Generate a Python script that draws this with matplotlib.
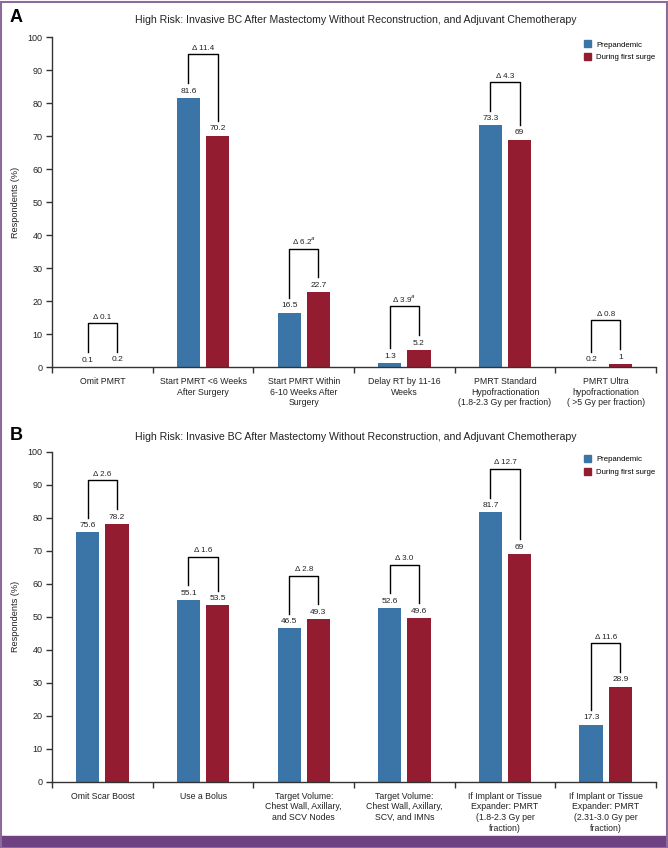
import numpy as np
import matplotlib
matplotlib.use("Agg")
import matplotlib.pyplot as plt
from matplotlib.patches import Rectangle, Patch

plt.rcParams["font.family"] = ["Liberation Sans", "DejaVu Sans"]

title = "High Risk: Invasive BC After Mastectomy Without Reconstruction, and Adjuvant Chemotherapy"
series = ["Prepandemic", "During first surge"]

cats_a = ["Omit PMRT", "Start PMRT <6 Weeks\nAfter Surgery",
          "Start PMRT Within\n6-10 Weeks After\nSurgery", "Delay RT by 11-16\nWeeks",
          "PMRT Standard\nHypofractionation\n(1.8-2.3 Gy per fraction)",
          "PMRT Ultra\nhypofractionation\n( >5 Gy per fraction)"]
pre_a = [0.1, 81.6, 16.5, 1.3, 73.3, 0.2]
surge_a = [0.2, 70.2, 22.7, 5.2, 69, 1]
delta_a = ["0.1", "11.4", "6.2$^{a}$", "3.9$^{a}$", "4.3", "0.8"]

cats_b = ["Omit Scar Boost", "Use a Bolus",
          "Target Volume:\nChest Wall, Axillary,\nand SCV Nodes",
          "Target Volume:\nChest Wall, Axillary,\nSCV, and IMNs",
          "If Implant or Tissue\nExpander: PMRT\n(1.8-2.3 Gy per\nfraction)",
          "If Implant or Tissue\nExpander: PMRT\n(2.31-3.0 Gy per\nfraction)"]
pre_b = [75.6, 55.1, 46.5, 52.6, 81.7, 17.3]
surge_b = [78.2, 53.5, 49.3, 49.6, 69, 28.9]
delta_b = ["2.6", "1.6", "2.8", "3.0", "12.7", "11.6"]

BLUE = "#3b75a7"
RED = "#941c31"
PURPLE = "#6e4280"

fig = plt.figure(figsize=(6.68, 8.48), dpi=100)


def fmt(v):
    return ("%g" % v)


def panel(ax, cats, pre, surge, deltas):
    x = np.arange(len(cats))
    w, off = 0.23, 0.145
    ax.bar(x - off, pre, w, color=BLUE, zorder=2)
    ax.bar(x + off, surge, w, color=RED, zorder=2)
    for i in range(len(cats)):
        for xx, v in ((x[i] - off, pre[i]), (x[i] + off, surge[i])):
            ax.text(xx, v + 1.0, fmt(v), ha="center", va="bottom", fontsize=6, color="#222")
        top = max(pre[i], surge[i]) + 13.2
        ax.plot([x[i] - off, x[i] - off, x[i] + off, x[i] + off],
                [pre[i] + 4.5, top, top, surge[i] + 4.5], color="black", lw=1.0, zorder=3)
        ax.text(x[i], top + 0.7, "\u0394 " + deltas[i], ha="center", va="bottom",
                fontsize=5.8, color="#222")
    ax.set_xlim(-0.5, len(cats) - 0.5)
    ax.set_ylim(0, 100)
    ax.set_yticks(np.arange(0, 101, 10))
    ax.set_xticks(np.arange(-0.5, len(cats), 1.0))
    ax.set_xticklabels([])
    ax.set_xticks(x, minor=True)
    ax.set_xticklabels(cats, minor=True, fontsize=6.3, linespacing=1.25)
    ax.tick_params(axis="x", which="minor", length=0, pad=7, colors="#222")
    ax.tick_params(axis="x", which="major", length=4, width=1, color="#333")
    ax.tick_params(axis="y", length=4, width=1, color="#333", labelsize=6.5, pad=3,
                   labelcolor="#222")
    for s in ("top", "right"):
        ax.spines[s].set_visible(False)
    for s in ("left", "bottom"):
        ax.spines[s].set_color("#333")
        ax.spines[s].set_linewidth(1.0)
    ax.legend([Patch(color=BLUE), Patch(color=RED)], series, loc="upper left",
              bbox_to_anchor=(0.875, 1.0), frameon=False, fontsize=5.6,
              handlelength=1.0, handleheight=1.0, handletextpad=0.6, labelspacing=0.6,
              borderaxespad=0.0)


ax_a = fig.add_axes([0.078, 0.567, 0.904, 0.389])
panel(ax_a, cats_a, pre_a, surge_a, delta_a)
ax_b = fig.add_axes([0.078, 0.078, 0.904, 0.389])
panel(ax_b, cats_b, pre_b, surge_b, delta_b)

for ax, lab, ty in ((ax_a, "A", 18), (ax_b, "B", 435)):
    fig.text(0.015, 1 - ty / 848, lab, fontsize=13, fontweight="bold", va="center")
    fig.text(0.532, 1 - (ty + 2) / 848, title, fontsize=7.6, ha="center", va="center", color="#222")
    pos = ax.get_position()
    fig.text(15 / 668, (pos.y0 + pos.y1) / 2, "Respondents (%)", rotation=90,
             ha="center", va="center", fontsize=6.6,
             family=["Liberation Sans Narrow", "DejaVu Sans Condensed", "Liberation Sans"],
             color="#222")

# purple frame
fig.patches.append(Rectangle((0, 0), 1, 12 / 848, transform=fig.transFigure, color=PURPLE, zorder=10))
fig.patches.append(Rectangle((0.0015, 0.0), 0.997, 0.998, transform=fig.transFigure,
                             fill=False, edgecolor="#8c6a9c", lw=1.5, zorder=10))

fig.savefig("out.png", dpi=100)
